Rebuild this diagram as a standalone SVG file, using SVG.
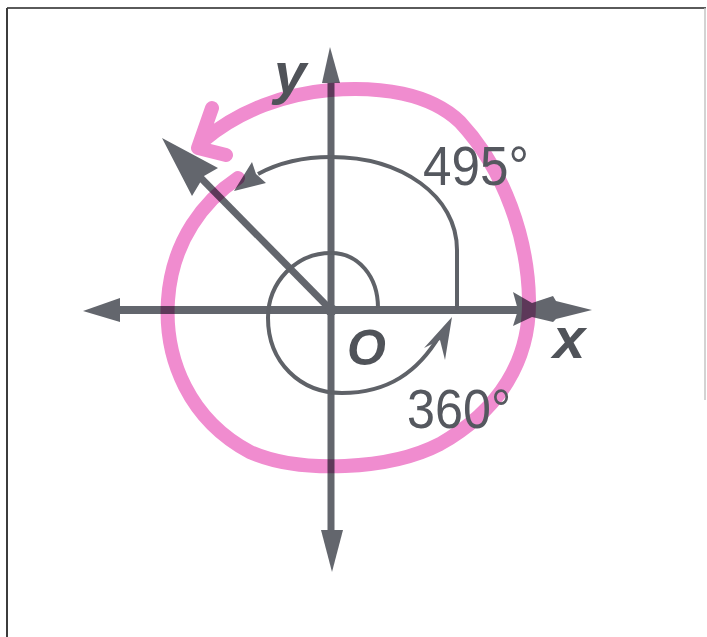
<svg xmlns="http://www.w3.org/2000/svg" width="707" height="637" viewBox="0 0 707 637">
  <style>
    .axis { stroke: #63666d; stroke-linecap: butt; fill: none; }
    .head { fill: #63666d; stroke: none; }
    .arc { stroke: #5f6268; stroke-width: 4; fill: none; }
    .pink { stroke: #f08ccf; stroke-width: 14; fill: none; stroke-linecap: round; stroke-linejoin: round; mix-blend-mode: multiply; }
    .lbl { font-family: "Liberation Sans", Arial, sans-serif; fill: #55585f; }
    .var { font-family: "Liberation Sans", Arial, sans-serif; font-style: italic; fill: #505359; }
  </style>
  <rect x="0" y="0" width="707" height="637" fill="#ffffff"/>
  <g id="frame">
    <line x1="7" y1="8" x2="706" y2="8" stroke="#5a5a5a" stroke-width="2"/>
    <line x1="7" y1="8" x2="7" y2="637" stroke="#3c3c3c" stroke-width="2"/>
    <line x1="705" y1="8" x2="705" y2="400" stroke="#c4c4c4" stroke-width="1.5"/>
  </g>
  <g id="connectors">
    <g id="x-axis">
      <line class="axis" x1="115" y1="310" x2="560" y2="310" stroke-width="8"/>
      <polygon class="head" points="83,311 120,298 120,322"/>
      <polygon class="head" points="592,310 556,301 553,296 532,303 513,292 518,310 513,326 532,317 553,322 556,319"/>
    </g>
    <g id="y-axis">
      <line class="axis" x1="331" y1="75" x2="331" y2="540" stroke-width="7"/>
      <polygon class="head" points="330,47 340,83 322,83"/>
      <polygon class="head" points="332,572 343,530 321,530"/>
    </g>
    <g id="terminal-ray">
      <line class="axis" x1="331" y1="310" x2="195" y2="172" stroke-width="7"/>
      <polygon class="head" points="162,138 218,168 204,176 192,196"/>
      <circle cx="331" cy="310" r="6" fill="#63666d"/>
    </g>
    <g id="arc-360">
      <path class="arc" d="M 378 308 C 378 276, 358 253, 331 253 C 296 253, 268 282, 268 318 C 268 362, 300 393, 342 393 C 388 393, 418 372, 440 335"/>
      <polygon class="head" points="452,317 445,360 440,340 424,348"/>
    </g>
    <g id="arc-495">
      <path class="arc" d="M 457 310 L 457 250 C 457 196, 402 157, 331 157 C 302 157, 280 162, 258 174"/>
      <polygon class="head" points="234,191 252,162 256,174 266,183"/>
    </g>
    <g id="pink-spiral">
      <path class="pink" d="M 238 178 C 205 200, 172 240, 168 300 C 164 360, 190 420, 250 452 C 300 474, 390 470, 440 444 C 500 410, 530 360, 529 300 C 528 240, 505 170, 460 122 C 430 93, 380 86, 330 90 C 285 94, 240 110, 204 140 M 212 108 L 198 148 L 226 155"/>
    </g>
  </g>
  <g id="labels">
    <text class="lbl" x="423" y="185" font-size="55" textLength="106" lengthAdjust="spacingAndGlyphs">495°</text>
    <text class="lbl" x="407" y="428" font-size="55" textLength="104" lengthAdjust="spacingAndGlyphs">360°</text>
    <text class="var" x="347" y="365" font-size="50" font-weight="bold">O</text>
    <text class="var" x="553" y="358" font-size="58" font-weight="bold">x</text>
    <text class="var" x="274" y="93" font-size="58" font-weight="bold">y</text>
  </g>
</svg>
